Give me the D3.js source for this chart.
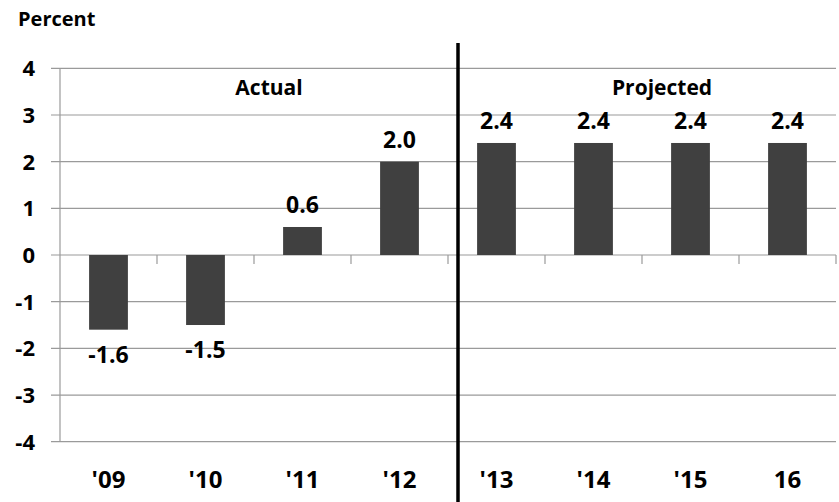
<!DOCTYPE html>
<html><head><meta charset="utf-8">
<script src="https://cdn.jsdelivr.net/npm/d3@7"></script>
<style>body{margin:0;background:#fff}svg{display:block}text{font-family:"Open Sans",sans-serif;font-weight:bold;fill:#000}</style>
</head><body><svg id="c" width="839" height="502"></svg>
<script>
const categories = ["'09","'10","'11","'12","'13","'14","'15","16"];
const values = [-1.6,-1.5,0.6,2.0,2.4,2.4,2.4,2.4];
const yTicks = [4,3,2,1,0,-1,-2,-3,-4];
const sectionLabels = ["Actual","Projected"];

const svg = d3.select("#c");
const x = d3.scaleBand().domain(categories).range([60,836]).paddingInner(0.6).paddingOuter(0.3);
const y = d3.scaleLinear().domain([-4,4]).range([441.7,68.3]);

// gridlines
svg.append("g").selectAll("line").data(yTicks).join("line")
  .attr("x1",51).attr("x2",836).attr("y1",d=>y(d)).attr("y2",d=>y(d))
  .attr("stroke","#9a9a9a").attr("stroke-width",1.2);
// y axis line
svg.append("line").attr("x1",60).attr("x2",60).attr("y1",y(4)).attr("y2",y(-4)).attr("stroke","#9a9a9a").attr("stroke-width",1.2);
// category ticks on zero line
const step = x.step();
svg.append("g").selectAll("line").data(categories).join("line")
  .attr("x1",(d,i)=>60+step*(i+1)).attr("x2",(d,i)=>60+step*(i+1))
  .attr("y1",y(0)).attr("y2",y(0)+9).attr("stroke","#9a9a9a").attr("stroke-width",1.2);

// y tick labels
svg.append("g").selectAll("text").data(yTicks).join("text")
  .attr("x",35).attr("y",d=>y(d)).attr("dy","0.36em").attr("text-anchor","end")
  .attr("font-size",22).text(d=>d);

// bars
svg.append("g").selectAll("rect").data(values).join("rect")
  .attr("x",(d,i)=>x(categories[i])).attr("width",x.bandwidth())
  .attr("y",d=>y(Math.max(0,d))).attr("height",d=>Math.abs(y(d)-y(0)))
  .attr("fill","#404040");

// value labels
svg.append("g").selectAll("text").data(values).join("text")
  .attr("x",(d,i)=>x(categories[i])+x.bandwidth()/2)
  .attr("y",d=>d>=0 ? y(d)-14 : y(d)+33)
  .attr("text-anchor","middle").attr("font-size",23)
  .text(d=>d.toFixed(1));

// x labels
svg.append("g").selectAll("text").data(categories).join("text")
  .attr("x",d=>x(d)+x.bandwidth()/2).attr("y",488)
  .attr("text-anchor","middle").attr("font-size",24).text(d=>d);

// divider
const divX = (x(categories[3])+x.bandwidth()+x(categories[4]))/2 + 10;
svg.append("line").attr("x1",divX).attr("x2",divX).attr("y1",43).attr("y2",502)
  .attr("stroke","#000").attr("stroke-width",3.5);

// section labels
svg.append("text").attr("x",(x(categories[0])+x(categories[3])+x.bandwidth())/2+15).attr("y",95)
  .attr("text-anchor","middle").attr("font-size",21).text(sectionLabels[0]);
svg.append("text").attr("x",(x(categories[4])+x(categories[7])+x.bandwidth())/2+20).attr("y",95)
  .attr("text-anchor","middle").attr("font-size",21).text(sectionLabels[1]);

// unit title
svg.append("text").attr("x",18).attr("y",26).attr("font-size",20).text("Percent");
</script></body></html>
